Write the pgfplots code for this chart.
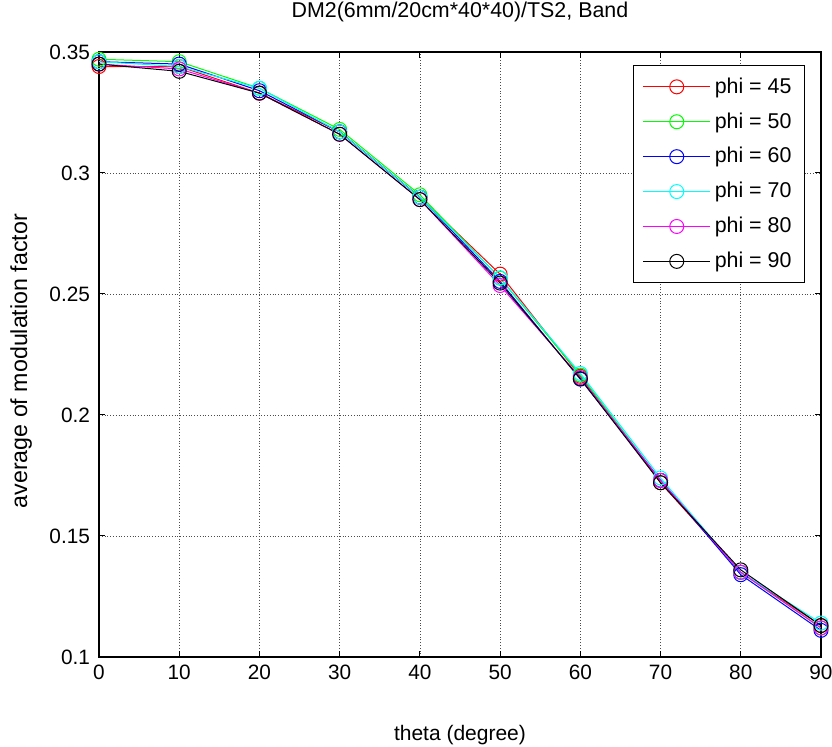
\documentclass[border=0pt]{standalone}
\usepackage{fontspec}
\setmainfont{Liberation Sans}
\usepackage{pgfplots}
\pgfplotsset{compat=1.18}
\begin{document}
\begin{tikzpicture}
\begin{axis}[
  at={(0,0)}, anchor=south west,
  scale only axis,
  width=361pt, height=302.5pt,
  xmin=0, xmax=90, ymin=0.1, ymax=0.35,
  xtick={0,10,...,90},
  ytick={0.1,0.15,0.2,0.25,0.3,0.35},
  yticklabels={0.1,0.15,0.2,0.25,0.3,0.35},
  /pgf/number format/assume math mode=true,
  tick align=inside,
  tick pos=both,
  major tick length=3pt,
  grid=major,
  major grid style={black!70, densely dotted, line width=0.3pt},
  axis line style={line width=0.6pt},
  tick style={black, line width=0.5pt},
  tick label style={font=\fontsize{10.4}{12}\selectfont},
  xticklabel style={yshift=-0.5pt},
  yticklabel style={xshift=-1pt},
  title={DM2(6mm/20cm*40*40)/TS2, Band},
  title style={font=\fontsize{10.7}{12}\selectfont, at={(axis description cs:0.5,1.066)}, anchor=center, yshift=-6pt},
  xlabel={theta (degree)},
  ylabel={average of modulation factor},
  xlabel style={font=\fontsize{10.5}{12}\selectfont, at={(axis description cs:0.5,-0.129)}, anchor=center},
  ylabel style={font=\fontsize{11.6}{12}\selectfont, at={(axis description cs:-0.108,0.489)}, anchor=center},
  legend style={at={(0.978,0.9785)}, anchor=north east, draw=black, line width=0.6pt,
    font=\fontsize{10.7}{12}\selectfont, row sep=4.2pt, inner xsep=4.5pt, inner ysep=4pt,
    cells={anchor=west}},
  legend image code/.code={
    \draw[mark repeat=2,mark phase=2, line width=0.5pt] plot coordinates {(0pt,0pt) (16.75pt,0pt) (33.5pt,0pt)};
  },
  every axis plot/.append style={line width=0.5pt, mark=o, mark size=3.5pt, mark options={solid, line width=0.5pt}},
]
\addplot[color=red] coordinates {(0,0.344) (10,0.344) (20,0.333) (30,0.317) (40,0.290) (50,0.2582) (60,0.216) (70,0.172) (80,0.135) (90,0.113)};
\addlegendentry{phi = 45}
\addplot[color={rgb,1:red,0;green,1;blue,0}] coordinates {(0,0.347) (10,0.346) (20,0.335) (30,0.318) (40,0.291) (50,0.2565) (60,0.2165) (70,0.173) (80,0.135) (90,0.112)};
\addlegendentry{phi = 50}
\addplot[color=blue] coordinates {(0,0.346) (10,0.345) (20,0.334) (30,0.317) (40,0.290) (50,0.2552) (60,0.2148) (70,0.173) (80,0.134) (90,0.111)};
\addlegendentry{phi = 60}
\addplot[color={rgb,1:red,0;green,1;blue,1}] coordinates {(0,0.346) (10,0.344) (20,0.335) (30,0.317) (40,0.290) (50,0.2567) (60,0.2172) (70,0.174) (80,0.135) (90,0.114)};
\addlegendentry{phi = 70}
\addplot[color={rgb,1:red,1;green,0;blue,1}] coordinates {(0,0.345) (10,0.343) (20,0.333) (30,0.316) (40,0.289) (50,0.2535) (60,0.2155) (70,0.173) (80,0.135) (90,0.112)};
\addlegendentry{phi = 80}
\addplot[color=black] coordinates {(0,0.345) (10,0.342) (20,0.333) (30,0.316) (40,0.289) (50,0.2545) (60,0.215) (70,0.172) (80,0.136) (90,0.113)};
\addlegendentry{phi = 90}
\end{axis}
\pgfresetboundingbox
\path (-49.5pt,-45pt) rectangle (366.5pt,328.5pt);
\end{tikzpicture}
\end{document}
